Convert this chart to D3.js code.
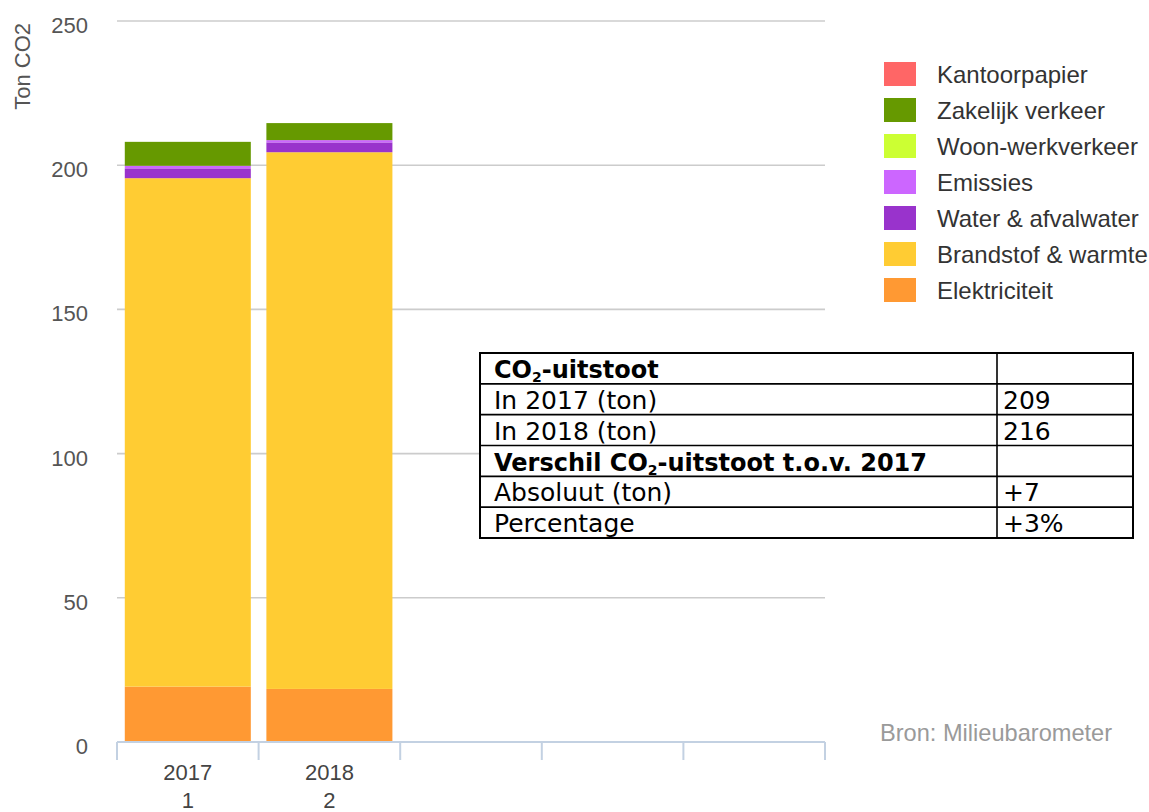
<!DOCTYPE html>
<html>
<head>
<meta charset="utf-8">
<script src="https://cdn.jsdelivr.net/npm/d3@7"></script>
<style>
  html, body { margin: 0; padding: 0; background: #fff; }
  svg { display: block; }
</style>
</head>
<body>
<svg id="chart" width="1149" height="812"></svg>
<script>
// ---- data ----
const years = ["2017", "2018"];
const yearIndex = ["1", "2"];
const slotCount = 5;
const seriesNames = ["Elektriciteit", "Brandstof & warmte", "Water & afvalwater", "Emissies", "Woon-werkverkeer", "Zakelijk verkeer", "Kantoorpapier"];
const seriesColors = ["#ff9933", "#ffcc33", "#9933cc", "#cc66ff", "#ccff33", "#669900", "#ff6666"];
const elektriciteit = [19.2, 18.4];
const brandstof = [176.3, 186.1];
const water = [3.4, 3.4];
const emissies = [0.9, 0.8];
const woonwerk = [0, 0];
const zakelijk = [8.3, 5.9];
const kantoorpapier = [0, 0];
const yTicks = [0, 50, 100, 150, 200, 250];
const tableLabels = ["CO2-uitstoot", "In 2017 (ton)", "In 2018 (ton)", "Verschil CO2-uitstoot t.o.v. 2017", "Absoluut (ton)", "Percentage"];
const tableValues = ["", "209", "216", "", "+7", "+3%"];
const tableBold = [true, false, false, true, false, false];

// ---- layout ----
const svg = d3.select("#chart");
const L = 117, R = 825, T = 21, B = 742;
const y = d3.scaleLinear().domain([0, 250]).range([B, T]);
const x = d3.scaleBand().domain(d3.range(slotCount)).range([L, R]).paddingInner(0.11).paddingOuter(0.055);
const step = x.step();

const seriesValues = [elektriciteit, brandstof, water, emissies, woonwerk, zakelijk, kantoorpapier];
const rows = years.map((yr, i) => {
  const o = { i };
  seriesNames.forEach((n, k) => o[n] = seriesValues[k][i]);
  return o;
});
const stacked = d3.stack().keys(seriesNames)(rows);

// gridlines
svg.append("g").selectAll("line").data(yTicks.filter(t => t > 0)).join("line")
  .attr("x1", L).attr("x2", R)
  .attr("y1", d => y(d)).attr("y2", d => y(d))
  .attr("stroke", "#cccccc").attr("stroke-width", 1.6);

// y tick labels
svg.append("g").selectAll("text").data(yTicks).join("text")
  .attr("x", 88).attr("y", d => y(d) + 12)
  .attr("text-anchor", "end")
  .attr("font-family", "'Liberation Sans', Arial, sans-serif")
  .attr("font-size", 22).attr("fill", "#555")
  .text(d => d);

// y axis title
svg.append("text")
  .attr("transform", "translate(30,23) rotate(-90)")
  .attr("text-anchor", "end")
  .attr("font-family", "'Liberation Sans', Arial, sans-serif")
  .attr("font-size", 22).attr("fill", "#555")
  .text("Ton CO2");

// bars
svg.append("g").selectAll("g").data(stacked).join("g")
  .attr("fill", (d, k) => seriesColors[k])
  .selectAll("rect").data(d => d).join("rect")
  .attr("x", d => x(d.data.i))
  .attr("width", x.bandwidth())
  .attr("y", d => y(d[1]))
  .attr("height", d => Math.max(0, y(d[0]) - y(d[1])));

// x axis
const axisColor = "#c3d1e2";
svg.append("line").attr("x1", L).attr("x2", R).attr("y1", B).attr("y2", B)
  .attr("stroke", axisColor).attr("stroke-width", 2);
svg.append("g").selectAll("line").data(d3.range(slotCount + 1)).join("line")
  .attr("x1", i => L + i * step).attr("x2", i => L + i * step)
  .attr("y1", B).attr("y2", B + 18)
  .attr("stroke", axisColor).attr("stroke-width", 2);
const xl = svg.append("g").selectAll("text").data(years).join("text")
  .attr("x", (d, i) => x(i) + x.bandwidth() / 2)
  .attr("y", 780)
  .attr("text-anchor", "middle")
  .attr("font-family", "'Liberation Sans', Arial, sans-serif")
  .attr("font-size", 22).attr("fill", "#444");
xl.append("tspan").text(d => d);
xl.append("tspan").attr("x", (d, i) => x(i) + x.bandwidth() / 2).attr("dy", 28).text((d, i) => yearIndex[i]);

// legend
const legend = svg.append("g").selectAll("g").data(seriesNames.slice().reverse()).join("g")
  .attr("transform", (d, i) => `translate(884,${74 + i * 36})`);
legend.append("rect").attr("x", 0).attr("y", -12).attr("width", 32).attr("height", 24)
  .attr("fill", d => seriesColors[seriesNames.indexOf(d)]);
legend.append("text").attr("x", 53).attr("y", 9)
  .attr("font-family", "'Liberation Sans', Arial, sans-serif")
  .attr("font-size", 24).attr("fill", "#333")
  .text(d => d);

// source
svg.append("text").attr("x", 880).attr("y", 741)
  .attr("font-family", "'Liberation Sans', Arial, sans-serif")
  .attr("font-size", 23.6).attr("fill", "#9a9a9a")
  .text("Bron: Milieubarometer");

// table
const tL = 480, tR = 1133, tT = 353, tB = 538, tDiv = 997;
const rowH = (tB - tT) / tableLabels.length;
const tg = svg.append("g");
tg.append("rect").attr("x", tL).attr("y", tT).attr("width", tR - tL).attr("height", tB - tT)
  .attr("fill", "#fff").attr("stroke", "#000").attr("stroke-width", 2);
tg.selectAll("line.h").data(d3.range(1, tableLabels.length)).join("line")
  .attr("x1", tL).attr("x2", tR)
  .attr("y1", i => tT + i * rowH).attr("y2", i => tT + i * rowH)
  .attr("stroke", "#000").attr("stroke-width", 1.6);
tg.append("line").attr("x1", tDiv).attr("x2", tDiv).attr("y1", tT).attr("y2", tB)
  .attr("stroke", "#000").attr("stroke-width", 1.6);
const lab = tg.selectAll("text.lab").data(tableLabels).join("text")
  .attr("x", 494).attr("y", (d, i) => tT + i * rowH + 25)
  .attr("font-family", "'DejaVu Sans', Verdana, sans-serif")
  .attr("font-size", (d, i) => tableBold[i] ? 24 : 25)
  .attr("font-weight", (d, i) => tableBold[i] ? "bold" : "normal")
  .attr("fill", "#000");
lab.each(function(d) {
  const t = d3.select(this);
  const parts = d.split("CO2");
  if (parts.length > 1) {
    t.append("tspan").text(parts[0] + "CO");
    t.append("tspan").attr("font-size", 14).attr("dy", 4).text("2");
    t.append("tspan").attr("dy", -4).text(parts[1]);
  } else {
    t.text(d);
  }
});
tg.selectAll("text.val").data(tableValues).join("text")
  .attr("x", 1003).attr("y", (d, i) => tT + i * rowH + 25)
  .attr("font-family", "'DejaVu Sans', Verdana, sans-serif")
  .attr("font-size", 25).attr("fill", "#000")
  .text(d => d);
</script>
</body>
</html>
